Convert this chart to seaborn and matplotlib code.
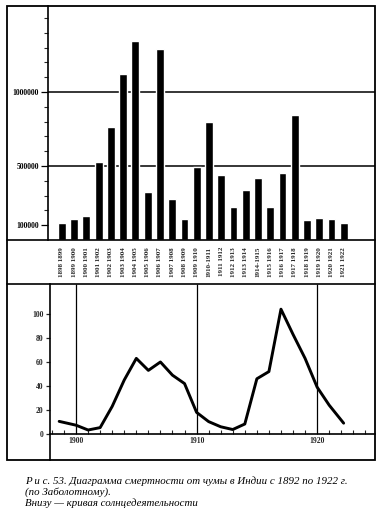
import matplotlib
matplotlib.use("Agg")
import matplotlib.pyplot as plt
import seaborn as sns
import pandas as pd
from matplotlib.patches import Rectangle
from matplotlib.lines import Line2D
from matplotlib.ticker import FixedLocator, MultipleLocator

# ---------------- data ----------------
seasons = ["1898 1899", "1899 1900", "1900 1901", "1901 1902", "1902 1903",
           "1903 1904", "1904 1905", "1905 1906", "1906 1907", "1907 1908",
           "1908 1909", "1909 1910", "1910-1911", "1911 1912", "1912 1913",
           "1913 1914", "1914-1915", "1915 1916", "1916 1917", "1917 1918",
           "1918 1919", "1919 1920", "1920 1921", "1921 1922"]
deaths = [113000, 142000, 162000, 525000, 766000, 1124000, 1347000, 322000,
          1293000, 277000, 142000, 495000, 800000, 439000, 225000, 338000,
          417000, 221000, 455000, 842000, 135000, 151000, 140000, 117000]
death_ticks = [100000, 500000, 1000000]
death_tick_labels = ["100000", "500000", "1000000"]

years = [1898.6, 1900, 1901, 1902, 1903, 1904, 1905, 1906, 1907, 1908, 1909,
         1910, 1911, 1912, 1913, 1914, 1915, 1916, 1917, 1918, 1919, 1920,
         1921, 1922.2]
sunspots = [10.5, 7.3, 3.3, 5.3, 23, 45, 63, 53, 60, 49, 42, 18, 10.3, 6,
            3.7, 8.3, 46, 52, 104, 83, 63, 39, 24, 9]
year_ticks = [1900, 1910, 1920]
sun_ticks = [0, 20, 40, 60, 80, 100]

caption = ["Р и с. 53. Диаграмма смертности от чумы в Индии с 1892 по 1922 г.",
           "(по Заболотному).",
           "Внизу — кривая солнцедеятельности"]

# ---------------- style ----------------
sns.set_style("ticks")
plt.rcParams['font.family'] = ['Liberation Serif', 'DejaVu Serif']

W, H = 384, 515
fig = plt.figure(figsize=(W / 100, H / 100), dpi=100)


def fx(px):
    return px / W


def fy(py):
    return 1 - py / H


# outer frame and separator lines
fig.add_artist(Rectangle((fx(7), fy(460)), fx(375) - fx(7), fy(6) - fy(460),
                         transform=fig.transFigure, fill=False, lw=1.3, ec='black'))
for yy in (240, 284):
    fig.add_artist(Line2D([fx(7), fx(375)], [fy(yy), fy(yy)],
                          transform=fig.transFigure, lw=1.2, color='black'))

# ---------------- top: bar chart ----------------
ax1 = fig.add_axes([fx(48), fy(240), fx(375) - fx(48), fy(6) - fy(240)])
df1 = pd.DataFrame({'season': seasons, 'deaths': deaths})
sns.barplot(data=df1, x='season', y='deaths', color='black', saturation=1,
            width=0.65, ax=ax1)
ax1.set_xlim(-1.14, 25.55)
ax1.set_ylim(0, 1581000)
for v in (500000, 1000000):
    ax1.axhline(v, color='black', lw=1.1, zorder=0)
ax1.set_yticks(death_ticks)
ax1.set_yticklabels(death_tick_labels, fontweight='bold')
ax1.yaxis.set_minor_locator(FixedLocator(list(range(100000, 1600000, 100000))))
ax1.tick_params(axis='y', which='major', length=5, width=0.9, direction='out',
                pad=1.5, labelsize=5.5, colors='black')
ax1.tick_params(axis='y', which='minor', length=3, width=0.8, direction='out')
ax1.tick_params(axis='x', length=0, pad=5, labelsize=5, labelrotation=90)
for t in ax1.get_xticklabels():
    t.set_fontweight('bold')
ax1.set_xlabel('')
ax1.set_ylabel('')
for s in ('top', 'right', 'bottom'):
    ax1.spines[s].set_visible(False)
ax1.spines['left'].set_linewidth(1.2)
ax1.spines['left'].set_color('black')
ax1.set_facecolor('none')

# ---------------- bottom: sunspot curve ----------------
ax2 = fig.add_axes([fx(50), fy(460), fx(375) - fx(50), fy(284) - fy(460)])
df2 = pd.DataFrame({'year': years, 'sun': sunspots})
sns.lineplot(data=df2, x='year', y='sun', color='black', lw=2.1, ax=ax2)
ax2.set_xlim(1897.84, 1924.8)
ax2.set_ylim(-21.7, 125)
ax2.vlines(year_ticks, 0, 125, color='black', lw=0.9)
ax2.spines['bottom'].set_position(('data', 0))
ax2.spines['bottom'].set_linewidth(1.2)
ax2.spines['bottom'].set_color('black')
ax2.spines['left'].set_linewidth(1.2)
ax2.spines['left'].set_color('black')
for s in ('top', 'right'):
    ax2.spines[s].set_visible(False)
ax2.set_xticks(year_ticks)
ax2.set_xticklabels([str(y) for y in year_ticks], fontweight='bold')
ax2.xaxis.set_minor_locator(MultipleLocator(1))
ax2.tick_params(axis='x', which='major', length=0, pad=2.5, labelsize=5.5)
ax2.tick_params(axis='x', which='minor', length=3, width=0.8, direction='in')
ax2.set_yticks(sun_ticks)
ax2.set_yticklabels([str(v) for v in sun_ticks], fontweight='bold')
ax2.tick_params(axis='y', length=3, width=0.9, direction='out', pad=1.5,
                labelsize=5.5)
ax2.set_xlabel('')
ax2.set_ylabel('')
ax2.set_facecolor('none')

# ---------------- caption ----------------
for i, line in enumerate(caption):
    fig.text(fx(25), fy(481.5 + 11 * i), line, fontsize=7.8, style='italic',
             va='center', ha='left', color='black')

fig.savefig('out.png', dpi=100)
